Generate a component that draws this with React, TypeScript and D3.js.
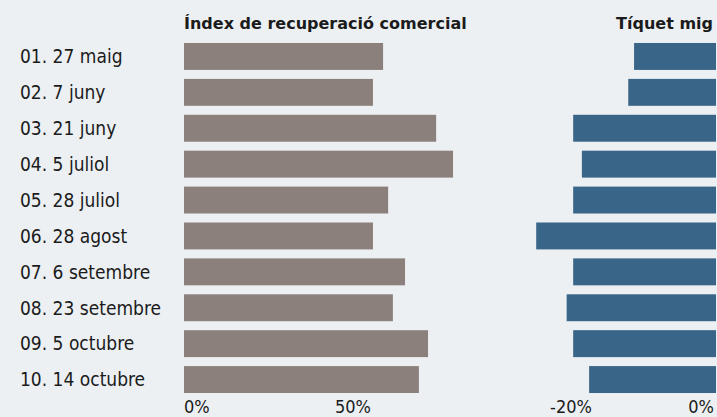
import React from "react";
import * as d3 from "d3";

const categories = [
  "01. 27 maig",
  "02. 7 juny",
  "03. 21 juny",
  "04. 5 juliol",
  "05. 28 juliol",
  "06. 28 agost",
  "07. 6 setembre",
  "08. 23 setembre",
  "09. 5 octubre",
  "10. 14 octubre",
];
const recoveryIndex = [58.9, 55.9, 74.6, 79.6, 60.4, 55.9, 65.4, 61.8, 72.2, 69.5];
const averageTicket = [-11.3, -12.1, -19.7, -18.5, -19.7, -24.8, -19.7, -20.6, -19.7, -17.5];
const leftTicks = [0, 50];
const rightTicks = [-20, 0];
const leftTitle = "Índex de recuperació comercial";
const rightTitle = "Tíquet mig";

const W = 717;
const H = 417;
const FONT = "'DejaVu Sans Condensed', 'DejaVu Sans', sans-serif";
const TITLE_FONT = "'DejaVu Sans', sans-serif";
const BG = "#ecf0f3";
const GRAY = "#8b807c";
const BLUE = "#396589";
const TEXT = "#1b1b1b";

export default function App() {
  const y = d3
    .scaleBand<string>()
    .domain(categories)
    .range([38.5, 397.5])
    .paddingInner(0.25)
    .paddingOuter(0.125);
  const xL = d3.scaleLinear().domain([0, 50]).range([184, 353]);
  const xR = d3.scaleLinear().domain([-20, 0]).range([571, 716]);

  return (
    <>
      <style>{`body{margin:0;background:${BG};}`}</style>
      <svg width={W} height={H} style={{ display: "block", background: BG }} fontFamily={FONT}>
        <rect x={0} y={0} width={W} height={H} fill={BG} />
        <text x={xL(0)} y={29} fontSize={16} fontWeight="bold" fill={TEXT} fontFamily={TITLE_FONT}>
          {leftTitle}
        </text>
        <text
          x={xR(0) - 3}
          y={29}
          fontSize={16}
          fontWeight="bold"
          fill={TEXT}
          textAnchor="end"
          fontFamily={TITLE_FONT}
        >
          {rightTitle}
        </text>
        {categories.map((c, i) => (
          <g key={c}>
            <text
              x={20}
              y={(y(c) ?? 0) + y.bandwidth() / 2}
              dy="0.36em"
              fontSize={19}
              fill={TEXT}
            >
              {c}
            </text>
            <rect
              x={xL(0)}
              y={y(c)}
              width={xL(recoveryIndex[i]) - xL(0)}
              height={y.bandwidth()}
              fill={GRAY}
            />
            <rect
              x={xR(averageTicket[i])}
              y={y(c)}
              width={xR(0) - xR(averageTicket[i])}
              height={y.bandwidth()}
              fill={BLUE}
            />
          </g>
        ))}
        {leftTicks.map((t, i) => (
          <text
            key={"l" + t}
            x={xL(t)}
            y={413}
            fontSize={18}
            fill={TEXT}
            textAnchor={i === 0 ? "start" : "middle"}
          >
            {t + "%"}
          </text>
        ))}
        {rightTicks.map((t, i) => (
          <text
            key={"r" + t}
            x={i === rightTicks.length - 1 ? xR(t) - 2 : xR(t)}
            y={413}
            fontSize={18}
            fill={TEXT}
            textAnchor={i === rightTicks.length - 1 ? "end" : "middle"}
          >
            {t + "%"}
          </text>
        ))}
      </svg>
    </>
  );
}
